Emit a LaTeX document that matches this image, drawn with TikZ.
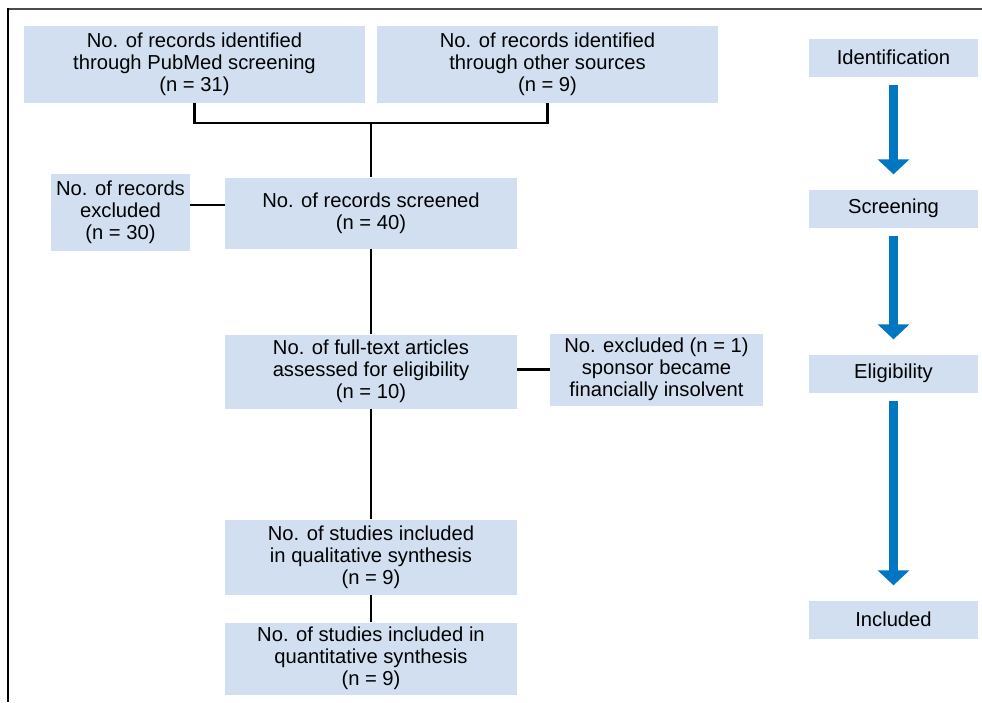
\documentclass[tikz,border=0pt]{standalone}
\usepackage{fontspec}
\setmainfont{Liberation Sans}
\usetikzlibrary{arrows.meta}
\definecolor{boxblue}{RGB}{209,223,241}
\definecolor{arrowblue}{RGB}{0,119,192}

\begin{document}
\begin{tikzpicture}[x=1pt,y=-1pt,
    box/.style={fill=boxblue, align=center, inner sep=0pt, font=\fontsize{20.2}{22}\selectfont},
    stage/.style={box, minimum width=169pt, minimum height=38pt},
    link/.style={line width=2.2pt},
    flow/.style={-{Triangle[width=31pt,length=15pt]}, line width=9pt, arrowblue, shorten <=8pt, shorten >=15pt}]
  \useasboundingbox (0,0) rectangle (982,702);
  % frame
  \draw[black!70, line width=2pt] (8,9) -- (982,9);
  \draw[line width=1.2pt] (8,8) -- (8,702);
  % boxes
  \node[box, minimum width=341pt, minimum height=77pt] (pubmed) at (194.5,64) {No. of records identified\\through PubMed screening\\(n = 31)};
  \node[box, minimum width=341pt, minimum height=77pt] (other) at (547.5,64) {No. of records identified\\through other sources\\(n = 9)};
  \node[box, minimum width=139pt, minimum height=77pt] (excl) at (120.5,212.5) {No. of records\\excluded\\(n = 30)};
  \node[box, minimum width=292pt, minimum height=71pt] (screened) at (371,213) {No. of records screened\\(n = 40)};
  \node[box, minimum width=292pt, minimum height=74pt] (fulltext) at (371,371.5) {No. of full-text articles\\assessed for eligibility\\(n = 10)};
  \node[box, minimum width=213pt, minimum height=72pt] (sponsor) at (656.5,369.5) {No. excluded (n = 1)\\sponsor became\\financially insolvent};
  \node[box, minimum width=292pt, minimum height=75pt] (qual) at (371,557) {No. of studies included\\in qualitative synthesis\\(n = 9)};
  \node[box, minimum width=292pt, minimum height=72pt] (quant) at (371,658.5) {No. of studies included in\\quantitative synthesis\\(n = 9)};
  % stages
  \node[stage] (ident) at (893.5,57.5) {Identification};
  \node[stage] (screen) at (893.5,208.5) {Screening};
  \node[stage] (elig) at (893.5,373.5) {Eligibility};
  \node[stage] (incl) at (893.5,619.5) {Included};
  % connectors
  \coordinate (join) at (371,123);
  \coordinate (exclout) at (190,205);
  \draw[link] (pubmed.south) |- (join) -| (other.south);
  \draw[link] (join) -- (screened.north);
  \draw[link] (exclout) -- (exclout -| screened.west);
  \draw[link] (screened) -- (fulltext);
  \draw[link] (fulltext.east |- sponsor.west) -- (sponsor.west);
  \draw[link] (fulltext) -- (qual);
  \draw[link] (qual) -- (quant);
  % stage arrows
  \draw[flow] (ident.south) -- (screen.north);
  \draw[flow] (screen.south) -- (elig.north);
  \draw[flow] (elig.south) -- (incl.north);
\end{tikzpicture}
\end{document}
